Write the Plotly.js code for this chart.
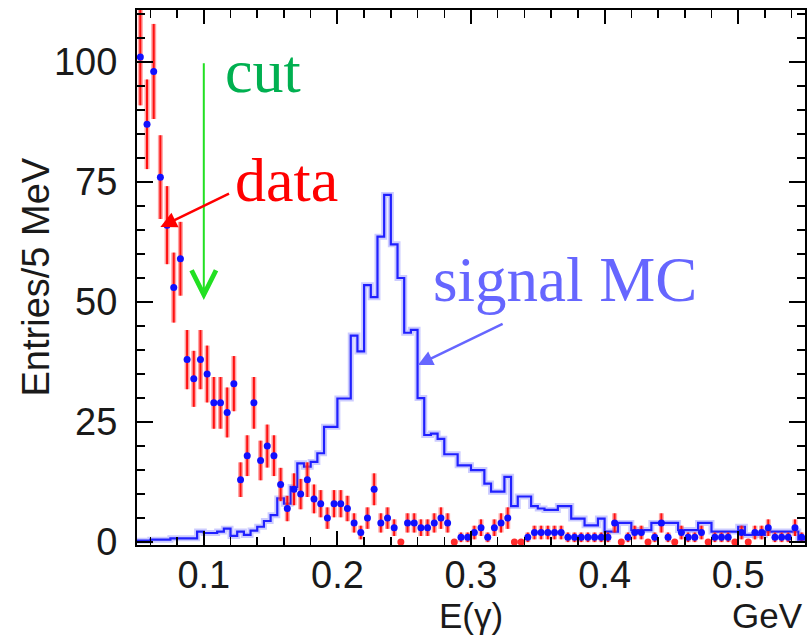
<!DOCTYPE html>
<html>
<head>
<meta charset="utf-8">
<script src="https://cdn.plot.ly/plotly-3.0.1.min.js"></script>
<style>html,body{margin:0;padding:0;background:#fff;}#chart{width:807px;height:637px;}</style>
</head>
<body>
<div id="chart"></div>
<script>
// Histogram definition: 100 bins of 5 MeV from 0.05 to 0.55 GeV
const binLow = 0.05;
const binWidth = 0.005;

// Data: entries per bin
const dataCounts = [
  101, 87, 98, 76, 66, 53, 59, 38, 34, 38,
  35, 29, 29, 27, 33, 13, 18, 29, 17, 20,
  18, 12, 7, 11, 10, 13, 9, 8, 5, 8,
  8, 7, 4, 2, 5, 11, 4, 5, 3, 0,
  4, 4, 3, 3, 4, 5, 4, 0, 1, 1,
  2, 3, 1, 3, 4, 5, 0, 0, 1, 2,
  2, 2, 2, 2, 1, 1, 1, 1, 1, 1,
  1, 4, 0, 1, 2, 2, 0, 1, 4, 1,
  0, 2, 1, 1, 2, 0, 1, 1, 1, 0,
  2, 0, 2, 2, 3, 1, 1, 1, 3, 1
];

// Signal MC (normalised) per bin
const signalMC = [
  0.3, 0.3, 0.5, 0.5, 0.5, 0.8, 0.8, 0.8, 0.8, 2.2,
  1.9, 1.9, 2.2, 2.8, 1.3, 2.2, 1.5, 2.4, 3.2, 4.4,
  5.6, 9.1, 8.0, 11.5, 16.4, 15.7, 16.7, 18.5, 24, 24,
  29.9, 29.9, 43, 39.7, 53.5, 51, 63.6, 72.3, 62, 55,
  43.6, 44.2, 30, 22.3, 22.6, 21.5, 18.3, 18.3, 16, 16,
  15, 15, 12.2, 10.5, 10.5, 13.6, 7.5, 9.5, 9.5, 7.5,
  7.0, 6.7, 6.7, 7.5, 7.5, 4.9, 4.9, 3.5, 3.5, 4.9,
  2.2, 2.2, 4.0, 4.0, 2.5, 2.5, 2.5, 4.0, 4.0, 4.0,
  4.0, 2.5, 2.5, 2.5, 4.0, 4.0, 2.2, 2.2, 2.2, 2.2,
  3.2, 1.5, 1.5, 1.5, 2.2, 2.2, 2.2, 2.2, 2.2, 0.5
];

const xTickVals = [0.1, 0.2, 0.3, 0.4, 0.5];
const xTickText = ['0.1', '0.2', '0.3', '0.4', '0.5'];
const yTickVals = [0, 25, 50, 75, 100];
const yTickText = ['0', '25', '50', '75', '100'];

const cutValue = 0.1;

// derived
const binCenters = dataCounts.map((_, i) => binLow + (i + 0.5) * binWidth);
const binEdges = signalMC.map((_, i) => binLow + i * binWidth).concat([binLow + signalMC.length * binWidth]);
const mcStep = signalMC.concat([signalMC[signalMC.length - 1]]);
const dataErr = dataCounts.map(v => Math.sqrt(v));
const markerColors = dataCounts.map(v => v === 0 ? '#ff2a2a' : '#1010ff');

const traces = [
  { x: binEdges, y: mcStep, type: 'scatter', mode: 'lines', line: { shape: 'hv', color: 'rgba(110,110,255,0.35)', width: 6 }, hoverinfo: 'skip', showlegend: false },
  { x: binEdges, y: mcStep, type: 'scatter', mode: 'lines', line: { shape: 'hv', color: '#2020ff', width: 2.2 }, showlegend: false },
  { x: binCenters, y: dataCounts, type: 'scatter', mode: 'markers', marker: { size: 0.1, color: 'rgba(0,0,0,0)' },
    error_y: { type: 'data', array: dataErr, visible: true, color: 'rgba(255,90,90,0.55)', thickness: 5, width: 0 }, showlegend: false, hoverinfo: 'skip' },
  { x: binCenters, y: dataCounts, type: 'scatter', mode: 'markers', marker: { size: 7, color: markerColors },
    error_y: { type: 'data', array: dataErr, visible: true, color: '#ff1010', thickness: 2, width: 0 }, showlegend: false }
];

const tickFont = { family: 'Liberation Sans, Arial, sans-serif', size: 38, color: '#1a1a1a' };
const serif = 'Liberation Serif, Times New Roman, serif';

const layout = {
  width: 807, height: 637,
  margin: { l: 137, r: 2, t: 10, b: 92 },
  paper_bgcolor: '#ffffff', plot_bgcolor: '#ffffff',
  showlegend: false,
  xaxis: {
    range: [0.05, 0.55], showgrid: false, zeroline: false,
    showline: true, linecolor: '#000', linewidth: 2, mirror: 'ticks',
    ticks: 'inside', ticklen: 14, tickwidth: 2, tickcolor: '#000',
    tickvals: xTickVals, ticktext: xTickText, tickfont: tickFont,
    minor: { dtick: 0.02, tick0: 0, ticks: 'inside', ticklen: 8, tickwidth: 1.5, tickcolor: '#000' },
    ticklabelstandoff: -5
  },
  yaxis: {
    range: [-0.6, 110.8], showgrid: false, zeroline: false,
    showline: true, linecolor: '#000', linewidth: 2, mirror: 'ticks',
    ticks: 'inside', ticklen: 16, tickwidth: 2, tickcolor: '#000',
    tickvals: yTickVals, ticktext: yTickText, tickfont: tickFont,
    minor: { dtick: 5, tick0: 0, ticks: 'inside', ticklen: 8, tickwidth: 1.5, tickcolor: '#000' },
    ticklabelstandoff: 10
  },
  annotations: [
    { xref: 'paper', yref: 'paper', x: (35 - 137) / 668, y: 0.5, text: 'Entries/5 MeV', textangle: -90,
      showarrow: false, xanchor: 'center', yanchor: 'middle', font: { family: tickFont.family, size: 38, color: '#1a1a1a' } },
    { xref: 'x', yref: 'paper', x: 0.3, y: -92 / 535, text: 'E(\u03b3)', showarrow: false,
      xanchor: 'center', yanchor: 'bottom', font: { family: tickFont.family, size: 35, color: '#1a1a1a' } },
    { xref: 'paper', yref: 'paper', x: 1, y: -92 / 535, text: 'GeV', showarrow: false,
      xanchor: 'right', yanchor: 'bottom', font: { family: tickFont.family, size: 35, color: '#1a1a1a' } },
    // cut arrow
    { xref: 'x', yref: 'y', x: cutValue, y: 50.4, axref: 'x', ayref: 'y', ax: cutValue, ay: 100, text: '',
      showarrow: true, arrowhead: 5, arrowsize: 2.4, arrowwidth: 2, arrowcolor: '#22e022' },
    { xref: 'x', yref: 'y', x: 0.144, y: 98.0, text: 'cut', showarrow: false, xanchor: 'center', yanchor: 'middle',
      font: { family: serif, size: 62, color: '#00b050' } },
    // data arrow
    { xref: 'x', yref: 'y', x: 0.0675, y: 65.6, axref: 'x', ayref: 'y', ax: 0.120, ay: 72.7, text: '',
      showarrow: true, arrowhead: 2, arrowsize: 1.3, arrowwidth: 2.5, arrowcolor: '#ff0000' },
    { xref: 'x', yref: 'y', x: 0.162, y: 75.3, text: 'data', showarrow: false, xanchor: 'center', yanchor: 'middle',
      font: { family: serif, size: 62, color: '#ff0000' } },
    // signal MC arrow
    { xref: 'x', yref: 'y', x: 0.2603, y: 36.9, axref: 'x', ayref: 'y', ax: 0.3248, ay: 45.6, text: '',
      showarrow: true, arrowhead: 2, arrowsize: 1.2, arrowwidth: 2.5, arrowcolor: '#6666ff' },
    { xref: 'x', yref: 'y', x: 0.370, y: 54.6, text: 'signal MC', showarrow: false, xanchor: 'center', yanchor: 'middle',
      font: { family: serif, size: 63, color: '#6666ff' } }
  ]
};

Plotly.newPlot('chart', traces, layout, { displayModeBar: false, staticPlot: true });
</script>
</body>
</html>
